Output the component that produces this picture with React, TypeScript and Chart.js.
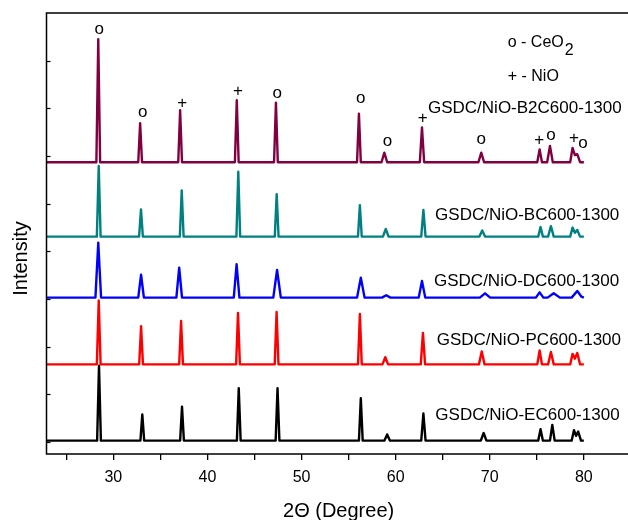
import React, { useEffect, useRef } from "react";
import { Chart, registerables } from "chart.js";

Chart.register(...registerables);

// ---------- data ----------
const xMin = 22.9;
const xMax = 85;
const yMin = -0.25;
const yMax = 9;

const xTickValues = [25, 30, 35, 40, 45, 50, 55, 60, 65, 70, 75, 80];
const xLabelValues = [30, 40, 50, 60, 70, 80];
const yTickValues = [0, 1, 2, 3, 4, 5, 6, 7, 8];

const seriesNames = [
  "GSDC/NiO-EC600-1300",
  "GSDC/NiO-PC600-1300",
  "GSDC/NiO-DC600-1300",
  "GSDC/NiO-BC600-1300",
  "GSDC/NiO-B2C600-1300",
];
const seriesColors = ["#000000", "#ff0000", "#0000ff", "#008080", "#800040"];
const seriesOffsets = [0.03, 1.63, 3.03, 4.31, 5.87];

// label anchor (2θ, intensity) for each series name, left aligned, baseline
const labelX = [64.22, 64.37, 64.08, 64.19, 63.44];
const labelY = [0.463, 2.036, 3.273, 4.657, 6.9];

// XRD profiles: [2θ, relative intensity]
const ecPoints: number[][] = [
  [22.9, 0],
  [28.28, 0], [28.48, 1.57], [28.68, 0],
  [32.88, 0], [33.08, 0.55], [33.28, 0],
  [37.1, 0], [37.3, 0.71], [37.5, 0],
  [43.13, 0], [43.33, 1.1], [43.53, 0],
  [47.25, 0], [47.45, 1.1], [47.65, 0],
  [56.1, 0], [56.3, 0.89], [56.5, 0],
  [58.8, 0], [59.1, 0.13], [59.4, 0],
  [62.72, 0], [62.95, 0.57], [63.18, 0],
  [69.05, 0], [69.35, 0.16], [69.65, 0],
  [75.15, 0], [75.4, 0.24], [75.65, 0],
  [76.4, 0], [76.65, 0.33], [76.9, 0],
  [78.7, 0], [78.95, 0.22], [79.17, 0.1], [79.4, 0.19], [79.7, 0],
  [80, 0],
];
const pcPoints: number[][] = [
  [22.9, 0],
  [28.25, 0], [28.45, 1.34], [28.65, 0],
  [32.75, 0], [32.95, 0.8], [33.15, 0],
  [37.0, 0], [37.2, 0.91], [37.4, 0],
  [43.05, 0], [43.25, 1.08], [43.45, 0],
  [47.15, 0], [47.35, 1.1], [47.55, 0],
  [56.0, 0], [56.2, 1.06], [56.4, 0],
  [58.6, 0], [58.9, 0.15], [59.2, 0],
  [62.67, 0], [62.9, 0.66], [63.13, 0],
  [68.85, 0], [69.15, 0.27], [69.45, 0],
  [75.05, 0], [75.3, 0.29], [75.55, 0],
  [76.2, 0], [76.5, 0.26], [76.8, 0],
  [78.55, 0], [78.8, 0.22], [79.05, 0.12], [79.3, 0.24], [79.6, 0],
  [80, 0],
];
const dcPoints: number[][] = [
  [22.9, 0],
  [28.1, 0], [28.4, 1.15], [28.7, 0],
  [32.65, 0], [32.95, 0.48], [33.25, 0],
  [36.7, 0], [37.0, 0.63], [37.3, 0],
  [42.8, 0], [43.1, 0.7], [43.4, 0],
  [47.0, 0], [47.4, 0.58], [47.8, 0],
  [55.9, 0], [56.3, 0.42], [56.7, 0],
  [58.55, 0], [59.0, 0.05], [59.45, 0],
  [62.45, 0], [62.8, 0.35], [63.15, 0],
  [68.95, 0], [69.5, 0.09], [70.05, 0],
  [74.9, 0], [75.3, 0.11], [75.7, 0],
  [76.15, 0], [76.8, 0.09], [77.45, 0],
  [78.7, 0], [79.3, 0.14], [79.75, 0.02],
  [80, 0],
];
const bcPoints: number[][] = [
  [22.9, 0],
  [28.25, 0], [28.45, 1.48], [28.65, 0],
  [32.74, 0], [32.94, 0.57], [33.14, 0],
  [37.07, 0], [37.27, 0.97], [37.47, 0],
  [43.08, 0], [43.28, 1.36], [43.48, 0],
  [47.16, 0], [47.36, 0.89], [47.56, 0],
  [56.0, 0], [56.2, 0.66], [56.4, 0],
  [58.65, 0], [58.95, 0.16], [59.25, 0],
  [62.72, 0], [62.95, 0.56], [63.18, 0],
  [68.9, 0], [69.2, 0.13], [69.5, 0],
  [75.15, 0], [75.4, 0.2], [75.65, 0],
  [76.2, 0], [76.5, 0.22], [76.8, 0],
  [78.55, 0], [78.8, 0.19], [79.05, 0.08], [79.3, 0.14], [79.6, 0],
  [80, 0],
];
const b2cPoints: number[][] = [
  [22.9, 0],
  [28.2, 0], [28.4, 2.58], [28.6, 0],
  [32.65, 0], [32.85, 0.82], [33.05, 0],
  [36.9, 0], [37.1, 1.09], [37.3, 0],
  [42.92, 0], [43.12, 1.3], [43.32, 0],
  [47.08, 0], [47.28, 1.25], [47.48, 0],
  [55.9, 0], [56.1, 1.02], [56.3, 0],
  [58.5, 0], [58.8, 0.2], [59.1, 0],
  [62.57, 0], [62.8, 0.73], [63.03, 0],
  [68.8, 0], [69.1, 0.2], [69.4, 0],
  [75.05, 0], [75.3, 0.27], [75.55, 0],
  [76.1, 0], [76.4, 0.34], [76.7, 0],
  [78.55, 0], [78.8, 0.3], [79.05, 0.15], [79.3, 0.17], [79.6, 0],
  [80, 0],
];
const seriesPoints = [ecPoints, pcPoints, dcPoints, bcPoints, b2cPoints];

// phase markers above the top pattern (glyph centre in data units)
const markerSymbols = ["o", "o", "+", "+", "o", "o", "o", "+", "o", "+", "o", "+", "o"];
const markerX = [28.5, 33.12, 37.33, 43.25, 47.42, 56.3, 59.14, 62.89, 69.1, 75.26, 76.5, 78.94, 79.9];
const markerY = [8.65, 6.92, 7.13, 7.39, 7.31, 7.2, 6.31, 6.82, 6.34, 6.36, 6.42, 6.39, 6.26];

// phase legend
const legendX = 71.91;
const legendMain = ["o - CeO", "+ - NiO"];
const legendBaseY = [8.29, 7.57];
const legendSubscript = "2";
const legendSubscriptY = 8.12;

const xTitle = "2\u0398 (Degree)";
const yTitle = "Intensity";
const xTitleCenter = 53.94;
const yTitleCenter = 3.85;

const FONT = "'Liberation Sans', Arial, Helvetica, sans-serif";

export default function App() {
  const ref = useRef<HTMLCanvasElement | null>(null);

  useEffect(() => {
    const canvas = ref.current;
    if (!canvas) return;

    const decor = {
      id: "decor",
      afterDraw(chart: any) {
        const ctx = chart.ctx as CanvasRenderingContext2D;
        const xs = chart.scales.x;
        const ys = chart.scales.y;
        const a = chart.chartArea;
        ctx.save();
        // frame
        ctx.strokeStyle = "#000";
        ctx.lineWidth = 1.5;
        ctx.strokeRect(a.left, a.top, a.right - a.left, a.bottom - a.top);
        // inward y ticks
        ctx.lineWidth = 1.2;
        for (const v of yTickValues) {
          const py = Math.round(ys.getPixelForValue(v)) + 0.5;
          ctx.beginPath();
          ctx.moveTo(a.left, py);
          ctx.lineTo(a.left + 4, py);
          ctx.stroke();
        }
        ctx.fillStyle = "#000";
        // series labels
        ctx.font = `17px ${FONT}`;
        ctx.textAlign = "left";
        ctx.textBaseline = "alphabetic";
        seriesNames.forEach((n, i) => {
          ctx.fillText(n, xs.getPixelForValue(labelX[i]), ys.getPixelForValue(labelY[i]));
        });
        // markers
        ctx.font = `17px ${FONT}`;
        ctx.textAlign = "center";
        markerSymbols.forEach((s, i) => {
          const off = s === "o" ? 0.26 * 17 : 0.35 * 17;
          ctx.fillText(s, xs.getPixelForValue(markerX[i]), ys.getPixelForValue(markerY[i]) + off);
        });
        // legend
        ctx.font = `16px ${FONT}`;
        ctx.textAlign = "left";
        const lx = xs.getPixelForValue(legendX);
        legendMain.forEach((t, i) => {
          ctx.fillText(t, lx, ys.getPixelForValue(legendBaseY[i]));
        });
        const w0 = ctx.measureText(legendMain[0]).width;
        ctx.fillText(legendSubscript, lx + w0 + 1, ys.getPixelForValue(legendSubscriptY));
        // axis titles
        ctx.font = `20px ${FONT}`;
        ctx.textAlign = "center";
        ctx.fillText(xTitle, xs.getPixelForValue(xTitleCenter), a.bottom + 62.5);
        ctx.save();
        ctx.translate(a.left - 19.5, ys.getPixelForValue(yTitleCenter));
        ctx.rotate(-Math.PI / 2);
        ctx.fillText(yTitle, 0, 0);
        ctx.restore();
        ctx.restore();
      },
    };

    const chart = new Chart(canvas, {
      type: "line",
      data: {
        datasets: seriesPoints.map((pts, i) => ({
          label: seriesNames[i],
          data: pts.map((p) => ({ x: p[0], y: p[1] + seriesOffsets[i] })),
          borderColor: seriesColors[i],
          backgroundColor: seriesColors[i],
          borderWidth: 2.4,
          borderJoinStyle: "round" as const,
          pointRadius: 0,
          tension: 0,
          fill: false,
        })),
      },
      options: {
        animation: false,
        responsive: false,
        devicePixelRatio: 1,
        layout: { padding: { left: 46.5, top: 13, right: 29.1, bottom: 26 } },
        plugins: { legend: { display: false }, tooltip: { enabled: false } },
        scales: {
          x: {
            type: "linear",
            min: xMin,
            max: xMax,
            afterBuildTicks: (scale: any) => {
              scale.ticks = xTickValues.map((v) => ({ value: v }));
            },
            afterFit: (scale: any) => {
              scale.height = 40;
            },
            border: { display: false },
            grid: {
              display: true,
              drawOnChartArea: false,
              drawTicks: true,
              tickLength: 6,
              color: "#000",
              lineWidth: 1.3,
            },
            ticks: {
              color: "#000",
              padding: 8,
              maxRotation: 0,
              autoSkip: false,
              font: { family: FONT, size: 16 },
              callback: (v: any) => (xLabelValues.includes(Number(v)) ? String(v) : ""),
            },
          },
          y: {
            type: "linear",
            min: yMin,
            max: yMax,
            display: false,
          },
        },
      },
      plugins: [decor],
    });
    return () => chart.destroy();
  }, []);

  return (
    <div
      style={{
        position: "fixed",
        left: 0,
        top: 0,
        width: 628,
        height: 520,
        overflow: "hidden",
        background: "#fff",
      }}
    >
      <canvas ref={ref} width={660} height={520} style={{ display: "block", width: 660, height: 520 }} />
    </div>
  );
}
